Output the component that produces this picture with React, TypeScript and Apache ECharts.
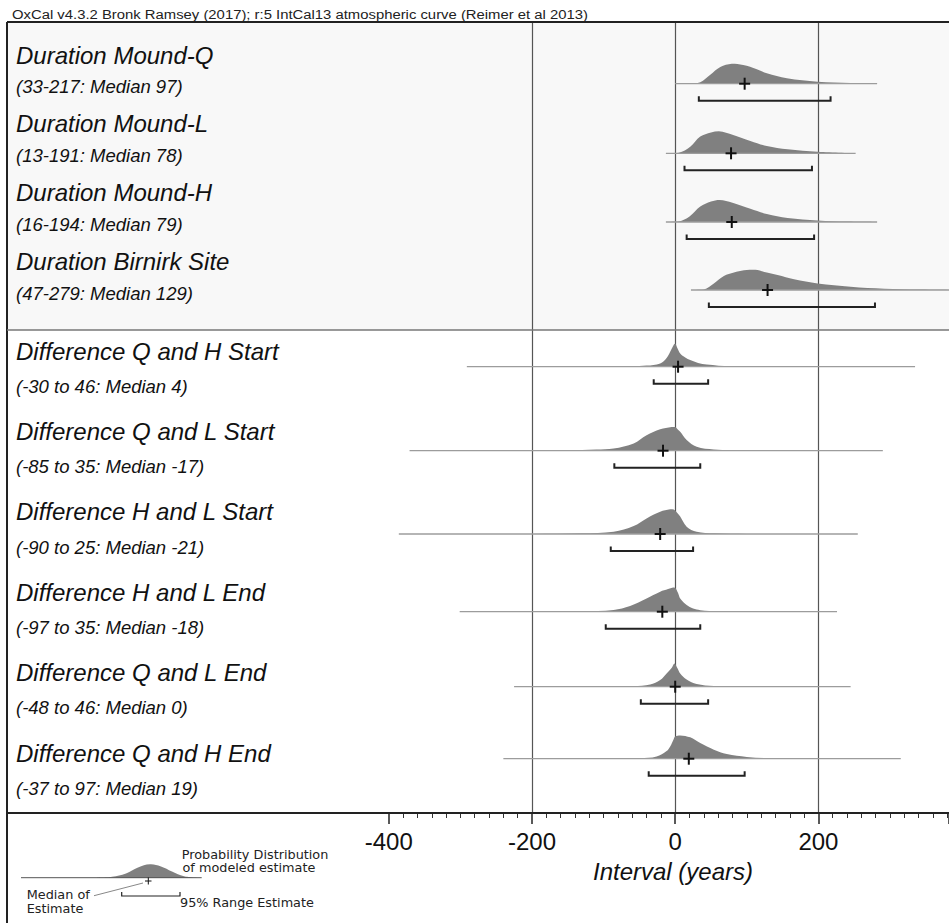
import React, { useEffect, useRef } from 'react';
import * as echarts from 'echarts';

// ---------------- data ----------------
const headerText = 'OxCal v4.3.2 Bronk Ramsey (2017); r:5 IntCal13 atmospheric curve (Reimer et al 2013)';
const axisTitle = 'Interval (years)';
const axisMin = -400;
const axisMax = 382.4;
const tickInterval = 200;

const rowNames = [
  'Duration Mound-Q',
  'Duration Mound-L',
  'Duration Mound-H',
  'Duration Birnirk Site',
  'Difference Q and H Start',
  'Difference Q and L Start',
  'Difference H and L Start',
  'Difference H and L End',
  'Difference Q and L End',
  'Difference Q and H End',
];
const isDuration = [true, true, true, true, false, false, false, false, false, false];
const rangeFrom = [33, 13, 16, 47, -30, -85, -90, -97, -48, -37];
const rangeTo = [217, 191, 194, 279, 46, 35, 25, 35, 46, 97];
const medians = [97, 78, 79, 129, 4, -17, -21, -18, 0, 19];

// probability distributions: [interval (years), relative probability]
const curveMoundQ: number[][] = [[0, 0], [20, 0.01], [35, 0.07], [49, 0.41], [63, 0.76], [79, 0.91], [95, 0.85], [114, 0.66], [128, 0.47], [156, 0.25], [199, 0.09], [245, 0.03], [282, 0]];
const curveMoundL: number[][] = [[-13, 0], [5, 0.02], [21, 0.3], [35, 0.76], [50, 0.95], [61, 1.0], [81, 0.83], [105, 0.56], [128, 0.33], [157, 0.18], [199, 0.07], [252, 0]];
const curveMoundH: number[][] = [[-13, 0], [5, 0.02], [20, 0.25], [35, 0.7], [50, 0.93], [62, 1.0], [80, 0.88], [105, 0.6], [128, 0.36], [157, 0.18], [199, 0.07], [240, 0.02], [282, 0]];
const curveBirnirk: number[][] = [[22, 0], [40, 0.02], [54, 0.3], [68, 0.64], [82, 0.8], [96, 0.9], [112, 0.92], [128, 0.79], [143, 0.68], [166, 0.49], [199, 0.3], [245, 0.15], [292, 0.06], [339, 0.02], [400, 0]];
const curveQHStart: number[][] = [[-291, 0], [-80, 0.005], [-40, 0.05], [-21, 0.15], [-12, 0.4], [-7, 0.68], [-2, 1.0], [0, 1.06], [3, 0.85], [7, 0.6], [14, 0.42], [21, 0.3], [32, 0.17], [44, 0.1], [77, 0.02], [335, 0]];
const curveQLStart: number[][] = [[-371, 0], [-200, 0.005], [-150, 0.02], [-110, 0.05], [-86, 0.1], [-58, 0.33], [-40, 0.7], [-21, 0.97], [-5, 1.08], [0, 1.08], [4, 0.95], [7, 0.86], [16, 0.49], [30, 0.18], [54, 0.06], [100, 0.01], [290, 0]];
const curveHLStart: number[][] = [[-386, 0], [-200, 0.005], [-130, 0.03], [-86, 0.1], [-58, 0.36], [-40, 0.71], [-21, 1.01], [-7, 1.12], [-2, 1.11], [3, 0.95], [7, 0.79], [16, 0.33], [30, 0.1], [54, 0.03], [100, 0.005], [255, 0]];
const curveHLEnd: number[][] = [[-301, 0], [-200, 0.005], [-130, 0.02], [-86, 0.08], [-63, 0.26], [-40, 0.6], [-21, 0.91], [-10, 1.03], [-3, 1.1], [0, 1.08], [4, 0.85], [7, 0.6], [16, 0.3], [25, 0.14], [35, 0.07], [60, 0.02], [226, 0]];
const curveQLEnd: number[][] = [[-225, 0], [-100, 0.005], [-58, 0.02], [-35, 0.1], [-21, 0.3], [-12, 0.6], [-5, 0.85], [-1, 1.06], [3, 0.85], [7, 0.6], [16, 0.33], [30, 0.12], [54, 0.03], [100, 0.005], [245, 0]];
const curveQHEnd: number[][] = [[-240, 0], [-120, 0.005], [-49, 0.02], [-26, 0.1], [-12, 0.35], [-7, 0.56], [-2, 0.9], [0, 1.01], [7, 1.06], [21, 0.97], [35, 0.71], [54, 0.41], [72, 0.21], [100, 0.08], [138, 0.02], [200, 0.005], [315, 0]];

const curves = [curveMoundQ, curveMoundL, curveMoundH, curveBirnirk, curveQHStart, curveQLStart, curveHLStart, curveHLEnd, curveQLEnd, curveQHEnd];

// ---------------- layout (pixels) ----------------
const W = 949;
const H = 923;
const FRAME_L = 7;
const FRAME_TOP = 22;
const SEP_Y = 330;
const AXIS_Y = 813;
const ROW_BASE_Y = [83.7, 153.3, 222, 290, 366.7, 450.7, 534, 611.7, 686.7, 758.7];
const TITLE_Y = [55, 123.9, 192.8, 261.7, 351, 431.4, 511.8, 592.2, 672.6, 753];
const SUB_Y = [86.3, 155.2, 224.1, 293, 386.3, 466.7, 547.1, 627.5, 707.9, 788.3];
const PEAK_PX = 22;
const BRACKET_DY = 17;
const BRACKET_TICK = 4.5;
const CROSS_HALF = 5.5;

const SANS = '"Liberation Sans", Arial, sans-serif';
const LEGEND_FONT = '"DejaVu Sans", Verdana, sans-serif';

function subtitle(i: number): string {
  return isDuration[i]
    ? `(${rangeFrom[i]}-${rangeTo[i]}: Median ${medians[i]})`
    : `(${rangeFrom[i]} to ${rangeTo[i]}: Median ${medians[i]})`;
}

const renderItem = (params: any, api: any) => {
  const i = params.dataIndex;
  const yb = ROW_BASE_Y[i];
  const c = curves[i];
  const pts = c.map(([v, d]) => api.coord([v, yb - d * PEAK_PX]));
  const b0 = api.coord([c[0][0], yb]);
  const b1 = api.coord([c[c.length - 1][0], yb]);
  let minY = Infinity;
  pts.forEach((p: number[]) => { if (p[1] < minY) minY = p[1]; });
  const m = api.coord([medians[i], yb]);
  const lo = api.coord([rangeFrom[i], yb + BRACKET_DY]);
  const hi = api.coord([rangeTo[i], yb + BRACKET_DY]);
  return {
    type: 'group',
    children: [
      {
        type: 'polygon',
        shape: { points: pts, smooth: 0.35, smoothConstraint: [[b0[0], minY], [b1[0], b0[1]]] },
        style: { fill: '#808080', stroke: null },
      },
      {
        type: 'line',
        shape: { x1: b0[0], y1: b0[1], x2: b1[0], y2: b1[1] },
        style: { stroke: '#9c9c9c', lineWidth: 1.3 },
      },
      {
        type: 'polyline',
        shape: { points: [[lo[0], lo[1] - BRACKET_TICK], [lo[0], lo[1]], [hi[0], hi[1]], [hi[0], hi[1] - BRACKET_TICK]] },
        style: { stroke: '#222', lineWidth: 2, fill: null },
      },
      {
        type: 'line',
        shape: { x1: m[0] - CROSS_HALF, y1: m[1], x2: m[0] + CROSS_HALF, y2: m[1] },
        style: { stroke: '#111', lineWidth: 2 },
      },
      {
        type: 'line',
        shape: { x1: m[0], y1: m[1] - CROSS_HALF - 0.5, x2: m[0], y2: m[1] + CROSS_HALF + 0.5 },
        style: { stroke: '#111', lineWidth: 2 },
      },
    ],
  };
};

function buildGraphics(): any[] {
  const els: any[] = [];
  // upper section background
  els.push({ type: 'rect', z: -10, silent: true, shape: { x: FRAME_L, y: FRAME_TOP, width: W - FRAME_L, height: SEP_Y - FRAME_TOP }, style: { fill: '#f8f8f8' } });
  // frame lines
  els.push({ type: 'line', z: 20, shape: { x1: FRAME_L, y1: FRAME_TOP, x2: W, y2: FRAME_TOP }, style: { stroke: '#222', lineWidth: 2 } });
  els.push({ type: 'line', z: 20, shape: { x1: FRAME_L, y1: FRAME_TOP, x2: FRAME_L, y2: H }, style: { stroke: '#222', lineWidth: 2 } });
  els.push({ type: 'line', z: 20, shape: { x1: FRAME_L, y1: SEP_Y, x2: W, y2: SEP_Y }, style: { stroke: '#777', lineWidth: 1.5 } });
  els.push({ type: 'line', z: 20, shape: { x1: FRAME_L, y1: AXIS_Y, x2: W, y2: AXIS_Y }, style: { stroke: '#222', lineWidth: 2 } });
  // header
  els.push({ type: 'text', z: 20, x: 12, y: 14.5, scaleX: 1.1, style: { text: headerText, fontFamily: SANS, fontSize: 13.5, fill: '#222', align: 'left', verticalAlign: 'middle' } });
  // row labels
  rowNames.forEach((name, i) => {
    els.push({ type: 'text', z: 20, x: 16, y: TITLE_Y[i], style: { text: name, fontFamily: SANS, fontStyle: 'italic', fontSize: 24, fill: '#111', align: 'left', verticalAlign: 'middle' } });
    els.push({ type: 'text', z: 20, x: 16, y: SUB_Y[i], style: { text: subtitle(i), fontFamily: SANS, fontStyle: 'italic', fontSize: 18.5, fill: '#111', align: 'left', verticalAlign: 'middle' } });
  });
  // axis title
  els.push({ type: 'text', z: 20, x: 673, y: 871, style: { text: axisTitle, fontFamily: SANS, fontStyle: 'italic', fontSize: 24, fill: '#111', align: 'center', verticalAlign: 'middle' } });
  // legend (explanatory key)
  els.push({ type: 'line', z: 20, shape: { x1: 21, y1: 877.7, x2: 201.7, y2: 877.7 }, style: { stroke: '#555', lineWidth: 1 } });
  els.push({ type: 'polygon', z: 19, shape: { points: [[98, 877.7], [112, 876.8], [126, 873.5], [138, 867.5], [150, 864.3], [161, 866.5], [172, 871.5], [184, 876.3], [196, 877.7]], smooth: 0.4 }, style: { fill: '#808080' } });
  els.push({ type: 'line', z: 20, shape: { x1: 145, y1: 881, x2: 151.5, y2: 881 }, style: { stroke: '#111', lineWidth: 1 } });
  els.push({ type: 'line', z: 20, shape: { x1: 148.3, y1: 877.5, x2: 148.3, y2: 884.5 }, style: { stroke: '#111', lineWidth: 1 } });
  els.push({ type: 'polyline', z: 20, shape: { points: [[121.7, 892], [121.7, 896], [180, 896], [180, 892]] }, style: { stroke: '#222', lineWidth: 1.2, fill: null } });
  els.push({ type: 'line', z: 20, shape: { x1: 94, y1: 895.7, x2: 143, y2: 883 }, style: { stroke: '#888', lineWidth: 1 } });
  const lt = (text: string, x: number, y: number) => ({ type: 'text', z: 20, x, y, scaleX: 1.07, style: { text, fontFamily: LEGEND_FONT, fontSize: 12, lineHeight: 12, fill: '#222', align: 'left', verticalAlign: 'middle' } });
  els.push(lt('Probability Distribution', 181.7, 854.3));
  els.push(lt('of modeled estimate', 182.5, 868));
  els.push(lt('Median of', 26.7, 894.3));
  els.push(lt('Estimate', 26.7, 908.5));
  els.push(lt('95% Range Estimate', 180, 902.3));
  return els;
}

export default function App() {
  const ref = useRef<HTMLDivElement>(null);
  useEffect(() => {
    if (!ref.current) return;
    const chart = echarts.init(ref.current, null, { renderer: 'svg' });
    const option: any = {
      animation: false,
      backgroundColor: '#ffffff',
      grid: { left: 388.8, right: 0, top: FRAME_TOP, bottom: H - AXIS_Y, containLabel: false },
      xAxis: {
        type: 'value',
        min: axisMin,
        max: axisMax,
        interval: tickInterval,
        z: 1,
        axisLine: { show: true, lineStyle: { color: '#222', width: 2 } },
        axisTick: { show: true, length: 11, lineStyle: { color: '#222', width: 1.5 } },
        minorTick: { show: true, splitNumber: 10, length: 5, lineStyle: { color: '#333', width: 1 } },
        axisLabel: { show: true, margin: 16, fontSize: 24, color: '#111', fontFamily: SANS, showMinLabel: true, showMaxLabel: false },
        splitLine: { show: true, showMinLine: false, showMaxLine: false, lineStyle: { color: '#555', width: 1.2 } },
        minorSplitLine: { show: false },
      },
      yAxis: { type: 'value', min: FRAME_TOP, max: AXIS_Y, inverse: true, show: false },
      series: [
        {
          type: 'custom',
          coordinateSystem: 'cartesian2d',
          clip: false,
          z: 3,
          silent: true,
          data: rowNames.map((_, i) => [medians[i], ROW_BASE_Y[i]]),
          renderItem,
        },
      ],
      graphic: { elements: buildGraphics() },
    };
    chart.setOption(option);
    return () => chart.dispose();
  }, []);
  return <div ref={ref} style={{ position: 'fixed', left: 0, top: 0, width: W, height: H, background: '#fff' }} />;
}
